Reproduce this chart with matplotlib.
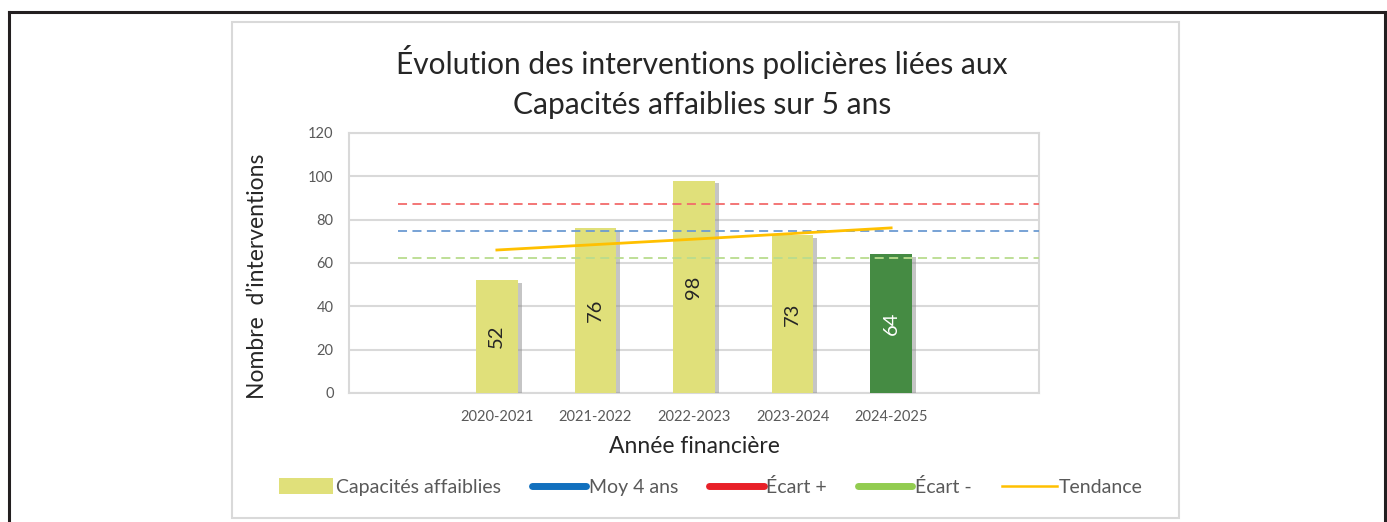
import matplotlib
matplotlib.use("Agg")
import matplotlib.pyplot as plt
from matplotlib.patches import Rectangle, Patch
from matplotlib.lines import Line2D
import matplotlib.patheffects as pe

plt.rcParams['font.family'] = ['Lato', 'DejaVu Sans']

# ---- data ----
categories = ['', '2020-2021', '2021-2022', '2022-2023', '2023-2024', '2024-2025', '']
bar_years = ['2020-2021', '2021-2022', '2022-2023', '2023-2024', '2024-2025']
bar_values = [52, 76, 98, 73, 64]
moy_4_ans = 74.75
ecart_plus = 87.2
ecart_moins = 62.4
trend_years = ['2020-2021', '2021-2022', '2022-2023', '2023-2024', '2024-2025']
trend_values = [66.0, 68.5, 71.0, 73.6, 76.2]
yticks = [0, 20, 40, 60, 80, 100, 120]

title = "Évolution des interventions policières liées aux\nCapacités affaiblies sur 5 ans"
ylabel = "Nombre  d’interventions"
xlabel = "Année financière"
legend_labels = ["Capacités affaiblies", "Moy 4 ans", "Écart +", "Écart -", "Tendance"]

# ---- style ----
W, H = 1387, 522
fig = plt.figure(figsize=(W / 100, H / 100), dpi=100)
fig.patch.set_facecolor('white')

bar_color = '#E0E07A'
last_color = '#458B43'
grid_color = '#D9D9D9'
text_gray = '#595959'

# outer document frame
fig.add_artist(Line2D([9 / W, 1385 / W], [1 - 12 / H, 1 - 12 / H], color='#231F20', lw=2.2,
                      transform=fig.transFigure))
fig.add_artist(Line2D([9 / W, 9 / W], [0, 1 - 12 / H], color='#231F20', lw=2.2,
                      transform=fig.transFigure))
fig.add_artist(Line2D([1385 / W, 1385 / W], [0, 1 - 12 / H], color='#231F20', lw=2.2,
                      transform=fig.transFigure))

# chart frame
fig.add_artist(Rectangle((232 / W, 1 - 518 / H), (1179 - 232) / W, (518 - 22) / H,
                         transform=fig.transFigure, fill=False, edgecolor=grid_color, lw=1.5))

ax = fig.add_axes([349 / W, 1 - 393 / H, (1039 - 349) / W, (393 - 133) / H])
ax.set_facecolor('white')

pos = {c: i for i, c in enumerate(categories) if c}
xs = [pos[y] for y in bar_years]
colors = [bar_color] * (len(bar_values) - 1) + [last_color]
bars = ax.bar(xs, bar_values, width=0.42, color=colors, zorder=3)
for b in bars:
    b.set_path_effects([pe.SimplePatchShadow(offset=(3, -2), shadow_rgbFace='#8C8C8C', alpha=0.5),
                        pe.Normal()])

for x, v, c in zip(xs, bar_values, colors):
    ax.text(x, v / 2, str(v), rotation=90, ha='center', va='center', fontsize=14.5,
            color='white' if c == last_color else '#262626', zorder=5)

# reference lines
x0, x1 = 0, len(categories) - 0.5
ax.plot([x0, x1], [ecart_plus, ecart_plus], color='#F26B6B', lw=1.3, ls=(0, (5, 3)), zorder=4)
ax.plot([x0, x1], [moy_4_ans, moy_4_ans], color='#6C9BD2', lw=1.3, ls=(0, (5, 3)), zorder=4)
ax.plot([x0, x1], [ecart_moins, ecart_moins], color='#B9DC8E', lw=1.3, ls=(0, (5, 3)), zorder=4)
ax.plot([pos[y] for y in trend_years], trend_values, color='#FFC000', lw=2, zorder=4)

ax.set_xlim(-0.5, len(categories) - 0.5)
ax.set_ylim(0, 120)
ax.set_yticks(yticks)
ax.set_xticks([pos[y] for y in bar_years])
ax.set_xticklabels(bar_years)
ax.tick_params(axis='both', length=0, labelsize=10.5, labelcolor=text_gray)
ax.tick_params(axis='y', pad=11)
ax.tick_params(axis='x', pad=12)
ax.yaxis.grid(True, color=grid_color, lw=1.5, zorder=0)
ax.set_axisbelow(True)
for s in ax.spines.values():
    s.set_color(grid_color)
    s.set_linewidth(1.5)

ax.set_ylabel(ylabel, fontsize=16.5, color='#262626')
ax.yaxis.set_label_coords(-0.118, 0.45)
ax.set_xlabel(xlabel, fontsize=16.5, color='#262626', labelpad=9)

fig.text(702 / W, 1 - 82 / H, title, ha='center', va='center', fontsize=21.5, color='#262626',
         linespacing=1.55)

handles = [Patch(facecolor=bar_color, edgecolor='none'),
           Line2D([], [], color='#1170BE', lw=5, solid_capstyle='round'),
           Line2D([], [], color='#E82028', lw=5, solid_capstyle='round'),
           Line2D([], [], color='#92CC50', lw=5, solid_capstyle='round'),
           Line2D([], [], color='#FFC000', lw=1.8)]
leg = fig.legend(handles, legend_labels, loc='center', bbox_to_anchor=(711 / W, 1 - 487 / H),
                 ncol=5, frameon=False, fontsize=14, handlelength=2.8, handletextpad=0.12,
                 columnspacing=1.6, handleheight=0.9)
for t in leg.get_texts():
    t.set_color(text_gray)

fig.savefig('out.png', dpi=100, facecolor='white')
